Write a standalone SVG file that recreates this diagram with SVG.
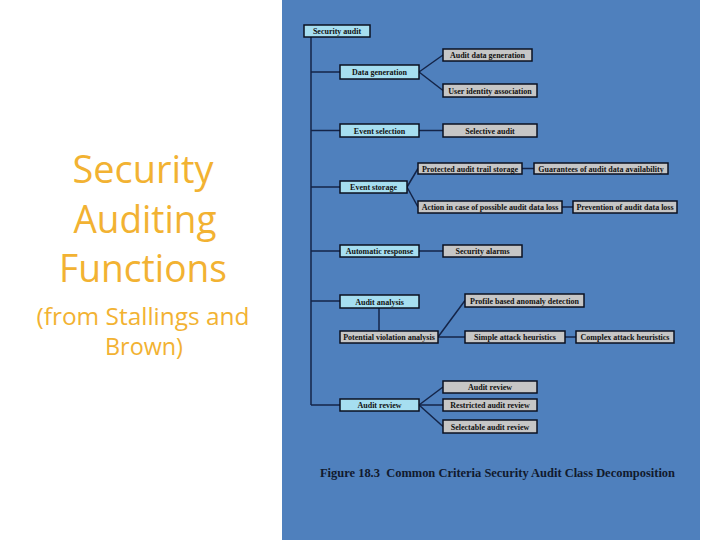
<svg xmlns="http://www.w3.org/2000/svg" width="720" height="540" viewBox="0 0 720 540">
<style>
.title{font-family:"Open Sans","Noto Sans",sans-serif;fill:#f2b232;text-anchor:middle}
.b{stroke:#0b1020;stroke-width:1.5}
.blue{fill:#a6def0}
.gray{fill:#c6c6c6}
.t{font-family:"Liberation Serif",serif;font-weight:bold;font-size:8px;fill:#111;text-anchor:middle}
.c{stroke:#142448;stroke-width:1.5;fill:none}
</style>
<rect x="0" y="0" width="720" height="540" fill="#ffffff"/>
<g id="title">
<text class="title" x="143" y="183" font-size="38" textLength="141" lengthAdjust="spacingAndGlyphs">Security</text>
<text class="title" x="145" y="233" font-size="38" textLength="143" lengthAdjust="spacingAndGlyphs">Auditing</text>
<text class="title" x="143" y="282" font-size="38" textLength="168" lengthAdjust="spacingAndGlyphs">Functions</text>
<text class="title" x="143" y="325" font-size="23" textLength="213" lengthAdjust="spacingAndGlyphs">(from Stallings and</text>
<text class="title" x="144" y="355" font-size="23" textLength="78" lengthAdjust="spacingAndGlyphs">Brown)</text>
</g>
<rect id="panel" x="282" y="0" width="418" height="540" fill="#4f80bd"/>
<g id="connectors">
<line class="c" x1="311" y1="37" x2="311" y2="405"/>
<line class="c" x1="311" y1="72" x2="340" y2="72"/>
<line class="c" x1="311" y1="130.5" x2="340" y2="130.5"/>
<line class="c" x1="311" y1="187" x2="340" y2="187"/>
<line class="c" x1="311" y1="251" x2="340" y2="251"/>
<line class="c" x1="311" y1="301" x2="340" y2="301"/>
<line class="c" x1="311" y1="405" x2="340" y2="405"/>
<line class="c" x1="419" y1="72" x2="443" y2="55"/>
<line class="c" x1="419" y1="72" x2="443" y2="90.5"/>
<line class="c" x1="419" y1="130.5" x2="443" y2="130.5"/>
<line class="c" x1="407" y1="187" x2="418" y2="168.5"/>
<line class="c" x1="407" y1="187" x2="418" y2="207"/>
<line class="c" x1="522" y1="168.5" x2="534" y2="168.5"/>
<line class="c" x1="562" y1="207" x2="573" y2="207"/>
<line class="c" x1="419" y1="251" x2="443" y2="251"/>
<line class="c" x1="379" y1="308" x2="379" y2="331"/>
<line class="c" x1="438" y1="337" x2="465" y2="300.5"/>
<line class="c" x1="438" y1="337" x2="465" y2="337"/>
<line class="c" x1="565" y1="337" x2="576" y2="337"/>
<line class="c" x1="419" y1="405" x2="443" y2="387"/>
<line class="c" x1="419" y1="405" x2="443" y2="405"/>
<line class="c" x1="419" y1="405" x2="443" y2="426.5"/>
</g>
<g id="n-security-audit"><rect class="b blue" x="304" y="25" width="66" height="12"/><text class="t" x="337" y="34">Security audit</text></g>
<g id="n-data-generation"><rect class="b blue" x="340" y="65" width="79" height="14"/><text class="t" x="379.5" y="75">Data generation</text></g>
<g id="n-audit-data-generation"><rect class="b gray" x="443" y="49" width="89" height="12"/><text class="t" x="487.5" y="58">Audit data generation</text></g>
<g id="n-user-identity"><rect class="b gray" x="443" y="84" width="94" height="13"/><text class="t" x="490" y="93.5">User identity association</text></g>
<g id="n-event-selection"><rect class="b blue" x="340" y="124" width="79" height="13"/><text class="t" x="379.5" y="133.5">Event selection</text></g>
<g id="n-selective-audit"><rect class="b gray" x="443" y="124" width="94" height="13"/><text class="t" x="490" y="133.5">Selective audit</text></g>
<g id="n-event-storage"><rect class="b blue" x="340" y="181" width="67" height="12"/><text class="t" x="373.5" y="190">Event storage</text></g>
<g id="n-protected"><rect class="b gray" x="418" y="163" width="104" height="11"/><text class="t" x="470" y="171.5">Protected audit trail storage</text></g>
<g id="n-guarantees"><rect class="b gray" x="534" y="163" width="134" height="11"/><text class="t" x="601" y="171.5">Guarantees of audit data availability</text></g>
<g id="n-action"><rect class="b gray" x="418" y="201" width="144" height="12"/><text class="t" x="490" y="210">Action in case of possible audit data loss</text></g>
<g id="n-prevention"><rect class="b gray" x="573" y="201" width="104" height="12"/><text class="t" x="625" y="210">Prevention of audit data loss</text></g>
<g id="n-automatic-response"><rect class="b blue" x="340" y="245" width="79" height="12"/><text class="t" x="379.5" y="254">Automatic response</text></g>
<g id="n-security-alarms"><rect class="b gray" x="443" y="245" width="79" height="12"/><text class="t" x="482.5" y="254">Security alarms</text></g>
<g id="n-audit-analysis"><rect class="b blue" x="340" y="295" width="79" height="13"/><text class="t" x="379.5" y="304.5">Audit analysis</text></g>
<g id="n-potential"><rect class="b gray" x="340" y="331" width="98" height="12"/><text class="t" x="389" y="340">Potential violation analysis</text></g>
<g id="n-profile"><rect class="b gray" x="465" y="294" width="119" height="13"/><text class="t" x="524.5" y="303.5">Profile based anomaly detection</text></g>
<g id="n-simple"><rect class="b gray" x="465" y="331" width="100" height="12"/><text class="t" x="515" y="340">Simple attack heuristics</text></g>
<g id="n-complex"><rect class="b gray" x="576" y="331" width="98" height="12"/><text class="t" x="625" y="340">Complex attack heuristics</text></g>
<g id="n-audit-review"><rect class="b blue" x="340" y="399" width="79" height="12"/><text class="t" x="379.5" y="408">Audit review</text></g>
<g id="n-audit-review-2"><rect class="b gray" x="443" y="381" width="94" height="12"/><text class="t" x="490" y="390">Audit review</text></g>
<g id="n-restricted"><rect class="b gray" x="443" y="399" width="94" height="12"/><text class="t" x="490" y="408">Restricted audit review</text></g>
<g id="n-selectable"><rect class="b gray" x="443" y="420" width="94" height="13"/><text class="t" x="490" y="429.5">Selectable audit review</text></g>
<text id="caption" x="497.5" y="477" font-family="Liberation Serif, serif" font-weight="bold" font-size="11.5" fill="#111a2e" text-anchor="middle" textLength="355" lengthAdjust="spacingAndGlyphs" xml:space="preserve">Figure 18.3  Common Criteria Security Audit Class Decomposition</text>
</svg>
